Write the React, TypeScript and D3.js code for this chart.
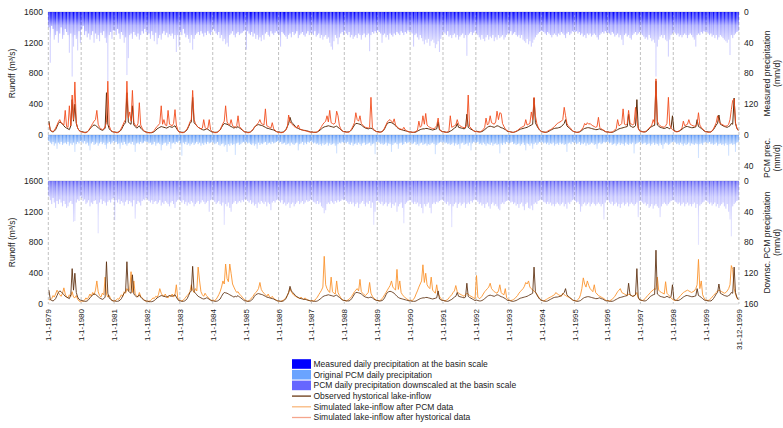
import * as d3 from 'd3';

// Semi-monthly readings (8th and 23rd of each month), one row per year 1979..1999
const startYear = 1979;

// Observed lake inflow (m3/s)
const observedInflow: number[][] = [
  [180, 60, 45, 40, 50, 70, 110, 150, 170, 160, 140, 120, 100, 90, 80, 70, 120, 460, 180, 400, 150, 90, 60, 50],
  [45, 40, 35, 35, 40, 55, 80, 100, 120, 130, 125, 110, 95, 80, 70, 60, 70, 90, 550, 140, 80, 60, 45, 40],
  [40, 35, 35, 40, 50, 70, 110, 140, 160, 550, 170, 150, 140, 380, 130, 110, 90, 100, 120, 90, 70, 55, 45, 40],
  [35, 30, 30, 30, 35, 45, 60, 80, 90, 100, 110, 105, 100, 95, 90, 100, 110, 105, 100, 110, 120, 90, 60, 40],
  [40, 35, 35, 40, 50, 70, 110, 150, 170, 490, 160, 140, 120, 100, 90, 80, 70, 65, 70, 80, 75, 60, 50, 40],
  [40, 35, 35, 40, 50, 65, 100, 130, 150, 145, 140, 130, 120, 110, 100, 90, 100, 95, 110, 90, 80, 65, 50, 40],
  [40, 35, 35, 40, 50, 70, 100, 120, 130, 135, 130, 125, 120, 110, 100, 90, 85, 80, 75, 70, 65, 55, 45, 40],
  [40, 35, 35, 40, 50, 70, 110, 150, 230, 170, 150, 130, 110, 95, 85, 75, 70, 65, 60, 60, 55, 50, 45, 40],
  [40, 35, 35, 35, 40, 50, 65, 80, 95, 105, 110, 115, 120, 115, 110, 105, 100, 110, 115, 100, 85, 70, 55, 45],
  [45, 40, 40, 40, 50, 70, 100, 130, 150, 150, 145, 140, 130, 115, 100, 90, 85, 80, 85, 90, 80, 65, 55, 45],
  [45, 40, 40, 45, 55, 80, 120, 150, 160, 165, 160, 150, 140, 120, 100, 85, 75, 70, 65, 60, 55, 50, 45, 40],
  [40, 35, 35, 35, 40, 50, 60, 70, 75, 80, 80, 85, 85, 80, 75, 70, 65, 70, 75, 80, 170, 65, 55, 45],
  [45, 40, 35, 35, 40, 50, 60, 75, 90, 100, 150, 100, 95, 90, 85, 80, 90, 270, 100, 85, 75, 65, 55, 45],
  [50, 45, 40, 40, 45, 55, 70, 85, 100, 110, 115, 110, 105, 100, 110, 120, 115, 105, 95, 90, 80, 70, 55, 45],
  [45, 40, 35, 35, 40, 45, 55, 65, 75, 80, 85, 90, 95, 100, 110, 120, 130, 140, 480, 160, 120, 90, 65, 50],
  [45, 40, 35, 35, 40, 50, 60, 70, 80, 85, 90, 90, 95, 100, 110, 130, 150, 200, 120, 100, 85, 70, 55, 45],
  [40, 35, 35, 40, 45, 60, 75, 85, 90, 95, 95, 90, 85, 80, 75, 70, 70, 75, 80, 70, 65, 55, 45, 40],
  [40, 35, 35, 35, 40, 50, 60, 70, 80, 85, 90, 95, 100, 105, 110, 270, 120, 110, 100, 105, 120, 460, 90, 55],
  [50, 45, 40, 40, 45, 60, 80, 100, 110, 120, 125, 700, 130, 115, 100, 95, 90, 85, 90, 100, 90, 80, 100, 250],
  [60, 50, 45, 45, 50, 60, 75, 90, 100, 110, 110, 105, 100, 95, 95, 100, 105, 200, 110, 100, 85, 70, 55, 45],
  [45, 40, 40, 40, 50, 70, 100, 130, 150, 260, 140, 130, 120, 110, 105, 100, 110, 120, 150, 140, 480, 150, 90, 60],
];

// Simulated lake inflow driven by historical data (m3/s)
const simulatedHistorical: number[][] = [
  [150, 70, 50, 45, 60, 90, 130, 170, 200, 160, 150, 130, 320, 110, 100, 380, 120, 520, 200, 690, 160, 90, 60, 45],
  [40, 35, 30, 30, 40, 60, 90, 120, 150, 180, 200, 320, 140, 100, 80, 70, 80, 110, 160, 700, 120, 70, 50, 40],
  [35, 30, 30, 40, 60, 90, 130, 170, 200, 700, 220, 300, 180, 580, 160, 130, 110, 150, 420, 130, 90, 60, 45, 35],
  [30, 30, 30, 35, 40, 60, 90, 110, 130, 150, 380, 140, 200, 130, 120, 320, 140, 130, 120, 150, 330, 130, 70, 40],
  [35, 30, 30, 40, 55, 80, 120, 170, 200, 580, 200, 150, 120, 100, 90, 80, 90, 200, 100, 80, 90, 200, 70, 45],
  [35, 30, 30, 35, 50, 70, 110, 150, 180, 380, 170, 140, 130, 200, 120, 110, 100, 120, 250, 110, 90, 70, 50, 40],
  [35, 30, 30, 40, 55, 75, 100, 120, 140, 160, 200, 150, 140, 130, 340, 120, 110, 100, 90, 160, 80, 60, 45, 35],
  [35, 30, 30, 35, 45, 65, 100, 260, 170, 150, 130, 110, 100, 90, 130, 80, 70, 65, 60, 55, 50, 45, 40, 35],
  [40, 35, 35, 35, 45, 60, 80, 110, 140, 160, 180, 250, 170, 320, 160, 150, 140, 160, 310, 250, 120, 80, 55, 45],
  [40, 35, 35, 40, 55, 80, 120, 160, 290, 200, 180, 250, 150, 130, 110, 100, 95, 90, 100, 490, 100, 70, 55, 45],
  [40, 35, 35, 45, 60, 90, 130, 170, 190, 200, 180, 160, 210, 130, 110, 90, 80, 75, 70, 100, 65, 55, 45, 40],
  [40, 35, 35, 40, 50, 60, 180, 100, 120, 250, 140, 280, 130, 110, 100, 90, 85, 80, 100, 120, 220, 80, 55, 45],
  [40, 35, 35, 40, 60, 250, 100, 110, 120, 130, 200, 140, 120, 110, 100, 95, 100, 140, 520, 110, 90, 70, 55, 45],
  [45, 40, 40, 45, 55, 70, 100, 220, 130, 150, 250, 160, 150, 140, 170, 310, 200, 290, 280, 150, 110, 80, 60, 50],
  [45, 40, 35, 35, 40, 50, 60, 75, 90, 100, 110, 120, 200, 130, 140, 150, 300, 200, 490, 250, 150, 100, 70, 50],
  [40, 35, 35, 40, 50, 60, 70, 80, 95, 110, 130, 150, 160, 170, 180, 200, 360, 250, 150, 120, 100, 80, 55, 45],
  [40, 35, 35, 40, 55, 75, 100, 150, 130, 160, 140, 150, 130, 120, 110, 100, 110, 230, 100, 80, 70, 60, 45, 40],
  [40, 35, 35, 40, 50, 65, 85, 200, 120, 130, 150, 340, 140, 130, 150, 320, 160, 140, 130, 150, 360, 180, 90, 55],
  [45, 40, 40, 45, 55, 70, 90, 110, 130, 200, 150, 730, 180, 140, 120, 110, 105, 100, 120, 150, 490, 130, 90, 70],
  [55, 45, 40, 45, 55, 70, 90, 180, 120, 130, 140, 200, 140, 130, 120, 115, 120, 140, 290, 130, 100, 80, 60, 45],
  [40, 35, 35, 40, 55, 80, 120, 160, 250, 180, 150, 140, 130, 120, 115, 120, 140, 200, 330, 450, 470, 160, 90, 60],
];

// Simulated lake inflow driven by PCM data (m3/s)
const simulatedPCM: number[][] = [
  [60, 50, 70, 110, 90, 130, 180, 150, 120, 100, 140, 210, 130, 90, 80, 120, 100, 160, 90, 80, 110, 60, 40, 30],
  [40, 35, 50, 80, 60, 90, 130, 100, 150, 120, 180, 300, 160, 110, 90, 140, 120, 350, 130, 90, 110, 70, 50, 40],
  [40, 50, 70, 60, 90, 120, 100, 160, 140, 200, 170, 180, 420, 150, 300, 130, 110, 90, 150, 100, 80, 60, 45, 35],
  [40, 35, 45, 60, 80, 70, 100, 90, 120, 200, 140, 110, 100, 130, 90, 80, 110, 100, 130, 90, 120, 250, 80, 50],
  [45, 40, 50, 70, 90, 110, 130, 160, 250, 180, 150, 200, 170, 480, 300, 160, 120, 100, 140, 110, 90, 70, 55, 45],
  [50, 45, 60, 90, 120, 160, 220, 300, 260, 520, 330, 290, 520, 400, 260, 220, 180, 150, 160, 130, 110, 90, 70, 55],
  [40, 35, 45, 60, 80, 100, 130, 150, 170, 200, 280, 190, 160, 140, 120, 100, 130, 90, 80, 100, 70, 60, 50, 40],
  [35, 35, 40, 50, 60, 80, 110, 150, 200, 160, 130, 110, 100, 90, 80, 70, 90, 70, 60, 80, 60, 50, 45, 40],
  [45, 40, 50, 70, 90, 120, 150, 180, 220, 620, 250, 200, 170, 150, 350, 160, 140, 130, 300, 150, 110, 80, 60, 50],
  [45, 40, 50, 60, 80, 100, 130, 160, 180, 200, 170, 320, 160, 140, 120, 110, 130, 150, 280, 140, 100, 80, 60, 50],
  [45, 40, 50, 70, 90, 120, 150, 180, 210, 240, 300, 220, 200, 180, 450, 190, 300, 150, 120, 100, 80, 70, 55, 45],
  [50, 45, 60, 90, 130, 170, 220, 260, 300, 510, 280, 400, 250, 220, 200, 350, 180, 160, 140, 250, 130, 100, 70, 55],
  [45, 40, 50, 60, 80, 100, 120, 150, 170, 240, 160, 140, 130, 120, 110, 100, 120, 140, 130, 110, 100, 90, 80, 70],
  [370, 90, 70, 80, 100, 130, 160, 180, 200, 220, 270, 200, 180, 160, 150, 140, 170, 250, 150, 130, 120, 200, 80, 60],
  [50, 45, 50, 60, 70, 90, 110, 140, 160, 180, 200, 230, 280, 260, 300, 220, 200, 180, 170, 150, 130, 100, 75, 55],
  [45, 40, 50, 60, 70, 80, 90, 100, 110, 120, 150, 130, 120, 110, 100, 140, 120, 110, 100, 90, 80, 70, 55, 45],
  [45, 40, 60, 80, 120, 200, 340, 260, 220, 300, 240, 200, 180, 160, 250, 150, 130, 110, 100, 90, 80, 70, 55, 45],
  [45, 40, 50, 60, 80, 100, 130, 160, 180, 200, 150, 140, 130, 120, 110, 130, 120, 110, 100, 110, 120, 150, 80, 55],
  [50, 45, 55, 70, 90, 110, 130, 150, 170, 180, 200, 190, 350, 180, 160, 150, 140, 130, 290, 140, 120, 100, 80, 60],
  [50, 45, 55, 70, 90, 110, 130, 150, 160, 170, 180, 170, 160, 150, 160, 170, 200, 250, 580, 200, 300, 120, 80, 55],
  [50, 45, 55, 70, 90, 110, 130, 150, 170, 180, 170, 160, 150, 140, 150, 170, 200, 250, 500, 450, 200, 130, 80, 55],
];

// Measured daily precipitation at the basin scale (mm/d), largest day of each half month
const measuredPrecip: number[][] = [
  [20, 66, 18, 22, 36, 30, 25, 40, 28, 20, 35, 30, 22, 26, 30, 53, 28, 84, 45, 30, 35, 50, 25, 40],
  [22, 18, 30, 25, 33, 28, 36, 30, 25, 40, 28, 35, 30, 38, 27, 30, 25, 34, 40, 90, 30, 26, 35, 24],
  [25, 30, 22, 28, 35, 26, 30, 40, 33, 82, 60, 30, 28, 35, 26, 30, 32, 28, 36, 30, 25, 28, 22, 26],
  [30, 28, 35, 25, 30, 38, 27, 42, 34, 30, 36, 28, 25, 30, 27, 33, 29, 31, 28, 35, 30, 52, 30, 45],
  [26, 30, 22, 28, 33, 30, 35, 40, 30, 49, 35, 30, 28, 26, 30, 25, 28, 32, 27, 30, 25, 28, 30, 26],
  [22, 25, 28, 30, 26, 34, 30, 38, 35, 42, 40, 45, 30, 28, 25, 30, 33, 28, 26, 30, 28, 27, 25, 24],
  [49, 25, 28, 30, 26, 32, 28, 35, 30, 36, 33, 38, 30, 36, 28, 26, 30, 32, 25, 28, 30, 27, 25, 28],
  [30, 45, 26, 28, 30, 32, 35, 30, 28, 33, 26, 30, 28, 25, 34, 30, 28, 26, 30, 32, 28, 25, 30, 27],
  [28, 30, 25, 32, 30, 28, 34, 30, 36, 32, 30, 35, 33, 40, 45, 49, 38, 30, 34, 42, 33, 28, 26, 30],
  [25, 28, 30, 26, 33, 30, 35, 32, 30, 34, 28, 30, 36, 30, 28, 33, 30, 28, 51, 30, 26, 28, 25, 27],
  [24, 26, 28, 40, 30, 28, 33, 30, 36, 28, 30, 32, 28, 30, 26, 28, 30, 25, 27, 30, 26, 28, 24, 26],
  [26, 28, 45, 30, 28, 33, 36, 30, 34, 38, 42, 36, 40, 35, 44, 38, 36, 40, 47, 42, 38, 52, 35, 30],
  [26, 28, 30, 25, 32, 30, 34, 30, 28, 33, 30, 36, 32, 30, 28, 34, 30, 57, 30, 28, 26, 30, 27, 25],
  [28, 30, 33, 36, 30, 35, 38, 33, 30, 36, 32, 34, 30, 38, 33, 36, 30, 34, 32, 30, 36, 33, 30, 28],
  [28, 25, 30, 28, 26, 30, 32, 30, 34, 30, 36, 38, 40, 35, 42, 38, 45, 40, 36, 33, 30, 28, 26, 25],
  [25, 26, 28, 30, 26, 28, 30, 33, 30, 28, 30, 32, 28, 30, 26, 28, 30, 34, 28, 26, 30, 28, 25, 26],
  [26, 25, 28, 26, 30, 28, 32, 30, 34, 28, 30, 28, 32, 30, 28, 30, 33, 36, 30, 28, 26, 28, 25, 27],
  [27, 28, 30, 26, 28, 32, 30, 28, 33, 30, 36, 43, 30, 28, 32, 30, 34, 36, 30, 28, 26, 30, 28, 26],
  [28, 30, 32, 35, 33, 36, 30, 34, 38, 36, 40, 84, 45, 36, 32, 30, 34, 30, 36, 38, 58, 36, 30, 28],
  [26, 28, 30, 28, 32, 30, 33, 30, 28, 30, 34, 30, 28, 30, 33, 36, 45, 30, 28, 30, 26, 28, 25, 26],
  [26, 28, 30, 28, 32, 30, 34, 30, 36, 33, 30, 32, 34, 36, 38, 40, 36, 56, 30, 34, 30, 28, 26, 25],
];

// Original PCM daily precipitation (mm/d)
const pcmPrecip: number[][] = [
  [8, 10, 12, 9, 14, 11, 18, 10, 12, 9, 13, 11, 10, 12, 9, 14, 11, 13, 10, 22, 12, 9, 11, 8],
  [9, 11, 8, 12, 10, 14, 20, 11, 9, 13, 12, 10, 14, 11, 9, 12, 10, 13, 18, 11, 9, 12, 10, 8],
  [10, 9, 12, 11, 18, 10, 13, 9, 12, 14, 11, 10, 12, 9, 13, 22, 11, 10, 12, 9, 11, 10, 8, 9],
  [9, 11, 10, 13, 12, 9, 14, 11, 10, 12, 20, 13, 11, 10, 14, 12, 9, 18, 11, 10, 12, 9, 10, 8],
  [11, 27, 10, 12, 9, 13, 11, 14, 12, 10, 13, 11, 9, 12, 10, 14, 11, 13, 10, 12, 9, 11, 10, 9],
  [10, 12, 11, 9, 13, 14, 12, 11, 15, 13, 22, 12, 14, 11, 13, 12, 26, 11, 10, 13, 12, 10, 9, 11],
  [9, 11, 10, 12, 13, 11, 14, 12, 18, 10, 13, 11, 12, 10, 9, 13, 11, 10, 12, 9, 11, 10, 9, 8],
  [10, 9, 12, 11, 10, 13, 12, 11, 14, 10, 12, 13, 11, 10, 20, 12, 11, 9, 13, 10, 12, 9, 10, 8],
  [9, 11, 10, 12, 11, 13, 12, 14, 11, 13, 12, 10, 14, 11, 13, 12, 11, 14, 24, 12, 10, 11, 9, 10],
  [10, 11, 9, 12, 13, 10, 14, 12, 11, 13, 10, 12, 14, 11, 10, 13, 12, 11, 10, 14, 12, 11, 25, 9],
  [9, 10, 12, 11, 13, 12, 10, 14, 11, 12, 22, 13, 11, 10, 12, 18, 11, 10, 13, 12, 9, 11, 10, 9],
  [10, 12, 11, 9, 13, 12, 14, 11, 10, 13, 12, 11, 14, 12, 13, 11, 10, 12, 25, 13, 11, 10, 9, 10],
  [9, 11, 10, 12, 11, 13, 12, 10, 14, 11, 13, 12, 18, 11, 10, 13, 12, 11, 14, 10, 20, 11, 9, 10],
  [10, 9, 12, 11, 13, 10, 12, 14, 11, 12, 13, 10, 14, 12, 11, 13, 12, 24, 11, 13, 10, 12, 9, 10],
  [11, 10, 9, 12, 11, 13, 12, 11, 14, 12, 10, 13, 20, 11, 12, 14, 11, 18, 12, 10, 13, 11, 9, 10],
  [9, 11, 10, 12, 10, 13, 11, 12, 10, 14, 12, 11, 13, 10, 12, 11, 13, 12, 22, 11, 10, 12, 9, 10],
  [10, 12, 11, 9, 13, 11, 12, 10, 14, 11, 13, 12, 10, 11, 13, 12, 18, 11, 10, 12, 11, 9, 10, 9],
  [9, 11, 10, 13, 12, 11, 14, 12, 10, 13, 11, 12, 14, 10, 12, 13, 11, 12, 10, 24, 12, 11, 10, 9],
  [10, 12, 11, 10, 13, 12, 11, 14, 12, 10, 13, 11, 12, 14, 11, 13, 18, 12, 10, 11, 13, 12, 10, 9],
  [9, 10, 12, 11, 13, 10, 12, 14, 11, 13, 12, 10, 14, 11, 12, 13, 11, 12, 30, 12, 11, 13, 10, 9],
  [10, 11, 9, 12, 11, 13, 12, 10, 14, 12, 11, 13, 12, 14, 11, 13, 27, 12, 11, 13, 12, 22, 10, 9],
];

// PCM daily precipitation downscaled at the basin scale (mm/d)
const downscaledPrecip: number[][] = [
  [20, 25, 30, 22, 28, 35, 26, 30, 24, 28, 33, 26, 30, 35, 33, 28, 26, 30, 53, 52, 28, 24, 26, 20],
  [22, 26, 24, 30, 28, 25, 33, 28, 30, 26, 25, 30, 68, 28, 24, 30, 26, 28, 32, 27, 25, 28, 24, 22],
  [51, 25, 28, 24, 30, 26, 28, 32, 27, 25, 30, 26, 28, 33, 25, 49, 30, 26, 28, 32, 26, 24, 25, 22],
  [24, 26, 28, 25, 30, 27, 26, 30, 28, 25, 32, 28, 30, 26, 28, 30, 33, 28, 26, 30, 35, 27, 25, 24],
  [26, 28, 25, 30, 27, 32, 28, 30, 26, 28, 33, 30, 28, 26, 30, 28, 25, 27, 30, 28, 26, 40, 25, 24],
  [25, 27, 30, 28, 26, 30, 32, 28, 57, 30, 33, 28, 35, 40, 30, 28, 26, 30, 28, 26, 28, 25, 27, 24],
  [24, 26, 28, 25, 30, 28, 32, 30, 35, 28, 30, 26, 28, 30, 27, 33, 28, 30, 38, 28, 26, 28, 25, 24],
  [26, 28, 25, 30, 28, 32, 30, 28, 35, 30, 28, 33, 30, 28, 26, 30, 28, 26, 30, 28, 25, 27, 26, 24],
  [25, 27, 28, 30, 26, 30, 28, 33, 35, 42, 38, 30, 28, 30, 26, 28, 30, 26, 28, 25, 27, 26, 24, 25],
  [24, 26, 28, 30, 27, 30, 28, 33, 30, 28, 35, 30, 28, 26, 30, 33, 28, 30, 26, 35, 28, 57, 40, 26],
  [26, 28, 30, 27, 32, 30, 28, 33, 30, 28, 35, 30, 32, 28, 40, 33, 30, 28, 35, 55, 30, 28, 26, 25],
  [25, 28, 30, 27, 30, 28, 33, 30, 35, 42, 30, 33, 30, 28, 35, 42, 30, 28, 30, 27, 28, 26, 25, 24],
  [26, 28, 30, 27, 32, 30, 60, 33, 30, 28, 35, 30, 28, 32, 30, 28, 35, 30, 28, 30, 26, 28, 25, 24],
  [25, 27, 30, 28, 32, 30, 35, 30, 28, 33, 36, 30, 28, 32, 30, 33, 36, 38, 30, 28, 30, 27, 26, 25],
  [26, 28, 27, 30, 28, 32, 30, 35, 30, 28, 33, 38, 30, 28, 35, 36, 32, 38, 30, 28, 30, 26, 25, 24],
  [25, 27, 28, 30, 27, 30, 28, 32, 30, 33, 30, 28, 30, 32, 30, 28, 33, 30, 36, 28, 30, 27, 25, 24],
  [26, 28, 27, 30, 40, 33, 30, 28, 32, 30, 28, 33, 30, 28, 30, 32, 30, 28, 30, 33, 30, 50, 28, 25],
  [25, 28, 30, 27, 32, 30, 28, 33, 30, 35, 30, 28, 32, 30, 28, 33, 30, 28, 30, 32, 30, 28, 47, 26],
  [26, 28, 30, 28, 32, 30, 35, 33, 30, 36, 32, 30, 33, 35, 47, 33, 30, 28, 30, 32, 30, 28, 26, 25],
  [25, 27, 28, 30, 28, 32, 30, 28, 33, 30, 28, 32, 30, 33, 30, 28, 35, 30, 83, 32, 30, 28, 27, 25],
  [26, 28, 30, 28, 32, 30, 28, 33, 30, 35, 32, 30, 28, 33, 36, 30, 40, 50, 72, 33, 30, 28, 26, 25],
];

const runoffTicks = [0, 400, 800, 1200, 1600];
const measuredTicks = [0, 40, 80, 120];
const pcmTicks = [0, 40];
const downscaledTicks = [0, 40, 80, 120, 160];
const lastDayLabel = '31-12-1999';

const legendItems = [
  { label: 'Measured daily precipitation at the basin scale', kind: 'box', color: '#0000ff' },
  { label: 'Original PCM daily precipitation', kind: 'box', color: '#6aa4ff' },
  { label: 'PCM daily precipitation downscaled at the basin scale', kind: 'box', color: '#6666ff' },
  { label: 'Observed hystorical lake-inflow', kind: 'line', color: '#6b3a14' },
  { label: 'Simulated lake-inflow after PCM data', kind: 'line', color: '#f9b77c' },
  { label: 'Simulated lake-inflow after hystorical data', kind: 'line', color: '#f5a58c' },
];

interface Point { date: Date; value: number; }

function toPoints(rows: number[][]): Point[] {
  return rows.flatMap((row, i) =>
    row.map((v, k) => ({ date: new Date(startYear + i, Math.floor(k / 2), k % 2 ? 23 : 8), value: v }))
  );
}

const W = 783;
const H = 428;
const FONT = '"Liberation Sans", Arial, sans-serif';

export default function App() {
  const endYear = startYear + observedInflow.length;
  const x = d3.scaleTime()
    .domain([new Date(startYear, 0, 1), new Date(endYear, 0, 1)])
    .range([48.3, 739]);

  const yTop = d3.scaleLinear().domain([0, 1600]).range([135, 12]);
  const yMeas = d3.scaleLinear().domain([0, 160]).range([12, 135]);
  const yPcm = d3.scaleLinear().domain([0, 60]).range([135, 181]);
  const yBot = d3.scaleLinear().domain([0, 1600]).range([304, 181]);
  const yDsc = d3.scaleLinear().domain([0, 160]).range([181, 304]);

  const obs = toPoints(observedInflow);
  const simH = toPoints(simulatedHistorical);
  const simP = toPoints(simulatedPCM);
  const meas = toPoints(measuredPrecip);
  const pcm = toPoints(pcmPrecip);
  const dsc = toPoints(downscaledPrecip);

  const lineTop = d3.line<Point>().x(d => x(d.date)).y(d => yTop(d.value));
  const lineBot = d3.line<Point>().x(d => x(d.date)).y(d => yBot(d.value));

  const yearDates = x.ticks(d3.timeYear.every(1)).filter(d => d.getFullYear() < endYear);
  const lastDay = new Date(endYear - 1, 11, 31);
  const xLabels = [
    ...yearDates.map(d => ({ x: x(d), text: `1-1-${d.getFullYear()}` })),
    { x: x(lastDay), text: lastDayLabel },
  ];

  const bars = (pts: Point[], y: d3.ScaleLinear<number, number>, fill: string) =>
    pts.map((d, i) => {
      const y0 = y(0);
      const y1 = y(d.value);
      return (
        <rect key={i} x={x(d.date) - 0.55} width={1.1}
          y={Math.min(y0, y1)} height={Math.abs(y1 - y0)} fill={fill} />
      );
    });

  const gridTop = 12;
  const gridBottom = 304;

  return (
    <svg width={W} height={H} style={{ position: 'absolute', left: 0, top: 0, background: '#fff' }}
      fontFamily={FONT}>
      <defs>
        <linearGradient id="gMeas" gradientUnits="userSpaceOnUse" x1="0" x2="0" y1={12} y2={135}>
          <stop offset="0" stopColor="#0000ff" stopOpacity={1} />
          <stop offset="0.05" stopColor="#0000ff" stopOpacity={0.8} />
          <stop offset="0.11" stopColor="#2020ff" stopOpacity={0.42} />
          <stop offset="0.22" stopColor="#3a3aff" stopOpacity={0.24} />
          <stop offset="1" stopColor="#4a4aff" stopOpacity={0.18} />
        </linearGradient>
        <linearGradient id="gPcm" gradientUnits="userSpaceOnUse" x1="0" x2="0" y1={135} y2={181}>
          <stop offset="0" stopColor="#4f8ff7" stopOpacity={0.95} />
          <stop offset="0.1" stopColor="#5b98f8" stopOpacity={0.7} />
          <stop offset="0.25" stopColor="#6aa4ff" stopOpacity={0.35} />
          <stop offset="1" stopColor="#6aa4ff" stopOpacity={0.2} />
        </linearGradient>
        <linearGradient id="gDsc" gradientUnits="userSpaceOnUse" x1="0" x2="0" y1={181} y2={304}>
          <stop offset="0" stopColor="#5252f5" stopOpacity={0.95} />
          <stop offset="0.05" stopColor="#5c5cf5" stopOpacity={0.7} />
          <stop offset="0.13" stopColor="#6666ff" stopOpacity={0.38} />
          <stop offset="0.3" stopColor="#7070ff" stopOpacity={0.22} />
          <stop offset="1" stopColor="#7a7aff" stopOpacity={0.18} />
        </linearGradient>
      </defs>

      {/* year grid lines */}
      {xLabels.map((t, i) => (
        <line key={`g${i}`} x1={t.x} x2={t.x} y1={gridTop} y2={gridBottom}
          stroke="#b0b0b0" strokeWidth={0.8} strokeDasharray="3,2" />
      ))}
      {[12, 135, 181, 304].map(yy => (
        <line key={`h${yy}`} x1={48.3} x2={739} y1={yy} y2={yy} stroke="#cfcfcf" strokeWidth={0.8} />
      ))}

      {/* precipitation bars */}
      <g>{bars(meas, yMeas, 'url(#gMeas)')}</g>
      <g>{bars(pcm, yPcm, 'url(#gPcm)')}</g>
      <g>{bars(dsc, yDsc, 'url(#gDsc)')}</g>

      {/* runoff lines */}
      <path d={lineTop(obs) ?? ''} fill="none" stroke="#5a2d0c" strokeWidth={1} />
      <path d={lineTop(simH) ?? ''} fill="none" stroke="#f24e1e" strokeWidth={1} strokeOpacity={0.9} />
      <path d={lineBot(simP) ?? ''} fill="none" stroke="#fb9530" strokeWidth={1} strokeOpacity={0.9} />
      <path d={lineBot(obs) ?? ''} fill="none" stroke="#5a2d0c" strokeWidth={1} strokeOpacity={0.85} />

      {/* left axes */}
      <g fontSize={8.5} fill="#222" textAnchor="end">
        {runoffTicks.map(t => (
          <text key={`lt${t}`} x={43} y={yTop(t)} dy="0.35em">{t}</text>
        ))}
        {runoffTicks.map(t => (
          <text key={`lb${t}`} x={43} y={yBot(t)} dy="0.35em">{t}</text>
        ))}
      </g>
      <g fontSize={8.5} fill="#222" textAnchor="middle">
        <text transform={`translate(15,${(12 + 135) / 2}) rotate(-90)`}>Runoff (m³/s)</text>
        <text transform={`translate(15,${(181 + 304) / 2}) rotate(-90)`}>Runoff (m³/s)</text>
      </g>

      {/* right axes */}
      <g fontSize={8.5} fill="#222" textAnchor="start">
        {measuredTicks.map(t => (
          <text key={`rm${t}`} x={744} y={yMeas(t)} dy="0.35em">{t}</text>
        ))}
        {pcmTicks.map(t => (
          <text key={`rp${t}`} x={744} y={yPcm(t)} dy="0.35em">{t}</text>
        ))}
        {downscaledTicks.map(t => (
          <text key={`rd${t}`} x={744} y={yDsc(t)} dy="0.35em">{t}</text>
        ))}
      </g>
      <g fontSize={8.5} fill="#222" textAnchor="middle">
        <text transform={`translate(770,${(12 + 135) / 2}) rotate(-90)`}>Measured precipitation</text>
        <text transform={`translate(779.5,${(12 + 135) / 2}) rotate(-90)`}>(mm/d)</text>
        <text transform={`translate(770,158) rotate(-90)`}>PCM prec.</text>
        <text transform={`translate(779.5,158) rotate(-90)`}>(mm/d)</text>
        <text transform={`translate(770,${(181 + 304) / 2}) rotate(-90)`}>Downsc. PCM precipitation</text>
        <text transform={`translate(779.5,${(181 + 304) / 2}) rotate(-90)`}>(mm/d)</text>
      </g>

      {/* date labels */}
      <g fontSize={8} fill="#222" textAnchor="end">
        {xLabels.map((t, i) => (
          <text key={`xl${i}`} transform={`translate(${t.x + 3},309) rotate(-90)`}>{t.text}</text>
        ))}
      </g>

      {/* legend */}
      <g fontSize={8.5} fill="#222">
        {legendItems.map((it, i) => {
          const cy = 364 + i * 10.7;
          return (
            <g key={it.label}>
              {it.kind === 'box'
                ? <rect x={292} y={cy - 4.8} width={19} height={9.6} fill={it.color} />
                : <line x1={292} x2={311} y1={cy} y2={cy} stroke={it.color} strokeWidth={1.3} />}
              <text x={313.5} y={cy} dy="0.35em">{it.label}</text>
            </g>
          );
        })}
      </g>
    </svg>
  );
}
